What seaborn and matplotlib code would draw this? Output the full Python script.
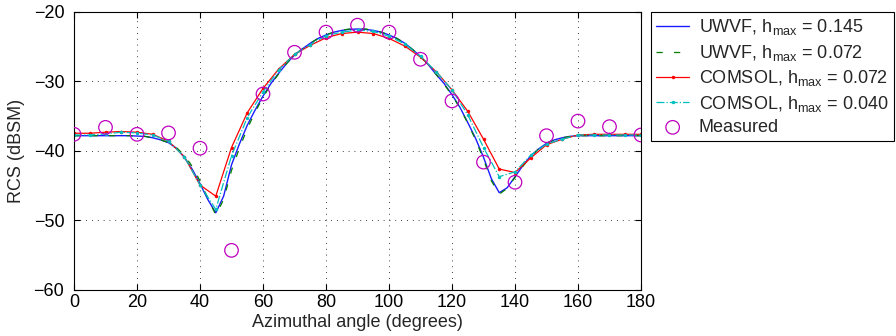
import numpy as np
import pandas as pd
import seaborn as sns
import matplotlib.pyplot as plt

# UWVF curves, read every 2.5 degrees
uwvf_angle = np.arange(0, 180.1, 2.5)
uwvf_145 = [-37.8, -37.8, -37.8, -37.8, -37.8, -37.8, -37.8, -37.8, -37.85, -37.9,
            -38.1, -38.4, -38.8, -39.6, -40.9, -42.6, -44.7, -47.0, -48.9, -46.5,
            -42.0, -39.0, -36.3, -34.1, -32.1, -30.3, -28.8, -27.4, -26.2, -25.3,
            -24.5, -23.8, -23.3, -22.9, -22.65, -22.5, -22.45, -22.5, -22.65, -22.9,
            -23.3, -23.8, -24.5, -25.4, -26.4, -27.6, -29.0, -30.3, -31.9, -33.7,
            -35.9, -38.2, -40.9, -44.0, -46.0, -45.3, -43.7, -42.1, -40.7, -39.7,
            -38.9, -38.4, -38.1, -37.9, -37.8, -37.8, -37.8, -37.8, -37.8, -37.8,
            -37.8, -37.8, -37.8]
uwvf_072 = [-37.8, -37.8, -37.8, -37.8, -37.8, -37.8, -37.8, -37.8, -37.85, -37.9,
            -38.1, -38.4, -38.8, -39.5, -40.6, -42.2, -44.3, -46.8, -49.2, -47.0,
            -42.8, -39.6, -36.8, -34.4, -32.3, -30.4, -28.9, -27.4, -26.2, -25.3,
            -24.5, -23.8, -23.3, -22.9, -22.6, -22.45, -22.4, -22.45, -22.6, -22.9,
            -23.3, -23.8, -24.5, -25.4, -26.4, -27.6, -29.0, -30.4, -32.0, -33.8,
            -36.0, -38.4, -41.2, -44.3, -46.2, -45.4, -43.8, -42.2, -40.8, -39.7,
            -38.9, -38.4, -38.1, -37.9, -37.8, -37.8, -37.8, -37.8, -37.8, -37.8,
            -37.8, -37.8, -37.8]

# COMSOL results, every 5 degrees
comsol_angle = np.arange(0, 180.1, 5)
comsol_072 = [-37.45, -37.45, -37.3, -37.2, -37.3, -37.6, -38.6, -40.8, -44.9, -46.5,
              -39.5, -34.5, -31.0, -28.2, -26.1, -24.8, -23.7, -23.1, -22.9, -23.1,
              -23.8, -24.9, -26.5, -28.6, -31.2, -34.3, -38.3, -42.6, -43.1, -41.0,
              -39.1, -38.3, -37.7, -37.6, -37.6, -37.6, -37.6]
comsol_040 = [-37.7, -37.7, -37.55, -37.3, -37.4, -37.7, -38.6, -40.8, -44.9, -48.4,
              -40.7, -35.2, -31.5, -28.3, -26.1, -24.7, -23.4, -22.9, -22.6, -22.8,
              -23.5, -24.6, -26.4, -28.6, -31.2, -34.8, -39.5, -43.7, -43.0, -40.6,
              -39.0, -38.3, -37.7, -37.7, -37.7, -37.7, -37.7]

# measurements, every 10 degrees
meas_angle = np.arange(0, 180.1, 10)
meas_rcs = [-37.6, -36.6, -37.6, -37.4, -39.6, -54.3, -31.8, -25.8, -22.9, -21.9,
            -22.9, -26.8, -32.8, -41.6, -44.5, -37.8, -35.7, -36.5, -37.7]

sns.set_theme(style="ticks")
plt.rcParams["font.family"] = ["Liberation Sans", "DejaVu Sans"]
plt.rcParams["mathtext.fontset"] = "custom"
plt.rcParams["mathtext.rm"] = "Liberation Sans"

fig, ax = plt.subplots(figsize=(8.96, 3.36), dpi=100)
fig.subplots_adjust(left=0.0826, right=0.7154, bottom=0.137, top=0.9643)

sub = r"$_{\mathregular{max}}$"
sns.lineplot(x=uwvf_angle, y=uwvf_145, ax=ax, color="#1a1aff", lw=1.0,
             label="UWVF, h" + sub + " = 0.145")
sns.lineplot(x=uwvf_angle, y=uwvf_072, ax=ax, color="#008000", lw=0.9,
             linestyle=(0, (5, 9)), label="UWVF, h" + sub + " = 0.072")
sns.lineplot(x=comsol_angle, y=comsol_072, ax=ax, color="#ff0000", lw=0.9,
             marker=".", markersize=5, markeredgewidth=0,
             label="COMSOL, h" + sub + " = 0.072")
sns.lineplot(x=comsol_angle, y=comsol_040, ax=ax, color="#00bfbf", lw=0.9,
             linestyle="-.", marker=".", markersize=5, markeredgewidth=0,
             label="COMSOL, h" + sub + " = 0.040")
sns.scatterplot(x=meas_angle, y=meas_rcs, ax=ax, marker="o", s=95,
                facecolors="none", edgecolor="#bf00bf", linewidth=0.9,
                label="Measured", zorder=5)

ax.set_xlim(0, 180)
ax.set_ylim(-60, -20)
ax.set_xticks(range(0, 181, 20))
ax.set_yticks(range(-60, -19, 10))
ax.grid(True, color="black", linestyle=(0, (1, 6)), linewidth=0.6)
ax.tick_params(direction="in", length=4, width=0.8, top=True, right=True,
               labelsize=13, colors="black")
ax.tick_params(axis="x", pad=3)
ax.tick_params(axis="y", pad=7)
for s in ax.spines.values():
    s.set_visible(True)
    s.set_color("black")
    s.set_linewidth(0.8)
ax.set_xlabel("Azimuthal angle (degrees)", fontsize=13, labelpad=2)
ax.set_ylabel("RCS (dBSM)", fontsize=13, labelpad=6)

leg = ax.legend(loc="upper left", bbox_to_anchor=(1.0176, 1.0), borderaxespad=0,
                fontsize=13, frameon=True, fancybox=False, framealpha=1,
                edgecolor="black", handlelength=1.8, handletextpad=0.55,
                labelspacing=0.3, borderpad=0.3, numpoints=1)
leg.get_frame().set_linewidth(0.8)

fig.savefig("out.png", dpi=100)
